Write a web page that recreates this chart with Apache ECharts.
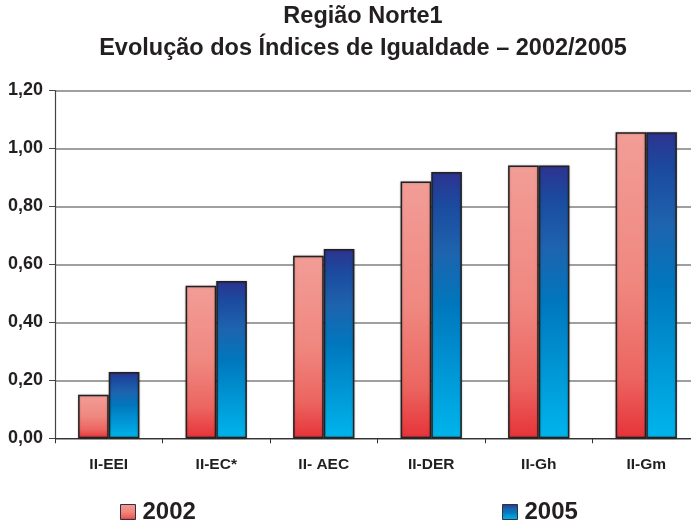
<!DOCTYPE html>
<html>
<head>
<meta charset="utf-8">
<script src="https://cdn.jsdelivr.net/npm/echarts@6/dist/echarts.min.js"></script>
<style>
  html, body { margin: 0; padding: 0; background: #fff; }
  #chart { width: 691px; height: 524px; }
</style>
</head>
<body>
<div id="chart"></div>
<script>
// Equality indices, Região Norte, 2002 vs 2005
const categories = ['II-EEI', 'II-EC*', 'II- AEC', 'II-DER', 'II-Gh', 'II-Gm'];
const values2002 = [0.15, 0.526, 0.63, 0.886, 0.941, 1.056];
const values2005 = [0.229, 0.543, 0.653, 0.919, 0.941, 1.056];
const seriesNames = ['2002', '2005'];
const yTicks = { min: 0, max: 1.2, interval: 0.2 };

const FONT = 'Liberation Sans, Arial, sans-serif';
const TEXT = '#231f20';

const redFill = new echarts.graphic.LinearGradient(0, 0, 0, 1, [
  { offset: 0, color: '#f29d97' },
  { offset: 0.5, color: '#ef877f' },
  { offset: 0.8, color: '#ec6560' },
  { offset: 1, color: '#e63339' }
]);
const blueFill = new echarts.graphic.LinearGradient(0, 0, 0, 1, [
  { offset: 0, color: '#2d3390' },
  { offset: 0.12, color: '#1b4a9e' },
  { offset: 0.3, color: '#1e63ae' },
  { offset: 0.5, color: '#0077bd' },
  { offset: 0.75, color: '#0096d5' },
  { offset: 1, color: '#00b5ec' }
]);

const barStyle = (fill) => ({
  color: fill,
  borderColor: '#222',
  borderWidth: 1.5,
  shadowColor: 'rgba(0,0,0,0.25)',
  shadowBlur: 2
});

const legendItem = (name, left) => ({
  data: [{ name: name, icon: 'rect' }],
  left: left,
  top: 498,
  padding: 0,
  itemWidth: 15,
  itemHeight: 15,
  itemGap: 6,
  textStyle: { fontFamily: FONT, fontWeight: 'bold', fontSize: 24, lineHeight: 28, color: TEXT, padding: [0, 0, 0, 2] },
  itemStyle: { borderColor: '#333', borderWidth: 1 }
});

const chart = echarts.init(document.getElementById('chart'), null, { renderer: 'canvas' });
chart.setOption({
  animation: false,
  backgroundColor: '#fff',
  title: {
    text: 'Região Norte1\nEvolução dos Índices de Igualdade – 2002/2005',
    left: 358,
    textAlign: 'center',
    top: -4,
    textStyle: {
      fontFamily: FONT,
      fontWeight: 'bold',
      fontSize: 23.5,
      lineHeight: 32,
      color: TEXT
    }
  },
  legend: [legendItem(seriesNames[0], 120), legendItem(seriesNames[1], 502)],
  grid: {
    left: 55, top: 90.5, height: 347.8, width: 645,
    containLabel: false, outerBoundsMode: 'none'
  },
  xAxis: {
    type: 'category',
    data: categories,
    axisLine: { lineStyle: { color: '#333', width: 1.2 } },
    axisTick: { show: true, length: 5, lineStyle: { color: '#333' } },
    axisLabel: {
      fontFamily: FONT,
      fontWeight: 'bold',
      fontSize: 15.5,
      color: TEXT,
      margin: 18
    }
  },
  yAxis: {
    type: 'value',
    min: yTicks.min,
    max: yTicks.max,
    interval: yTicks.interval,
    axisLine: { show: true, lineStyle: { color: '#444', width: 1.2 } },
    axisTick: { show: true, length: 6, lineStyle: { color: '#444' } },
    splitLine: { lineStyle: { color: '#7f7f7f', width: 1.5 } },
    axisLabel: {
      fontFamily: FONT,
      fontWeight: 'bold',
      fontSize: 18,
      color: TEXT,
      margin: 12,
      formatter: (v) => v.toFixed(2).replace('.', ',')
    }
  },
  series: [
    {
      name: seriesNames[0],
      type: 'bar',
      data: values2002,
      barGap: '0%',
      barCategoryGap: '43%',
      itemStyle: barStyle(redFill)
    },
    {
      name: seriesNames[1],
      type: 'bar',
      data: values2005,
      barGap: '0%',
      barCategoryGap: '43%',
      itemStyle: barStyle(blueFill)
    }
  ]
});
</script>
</body>
</html>
